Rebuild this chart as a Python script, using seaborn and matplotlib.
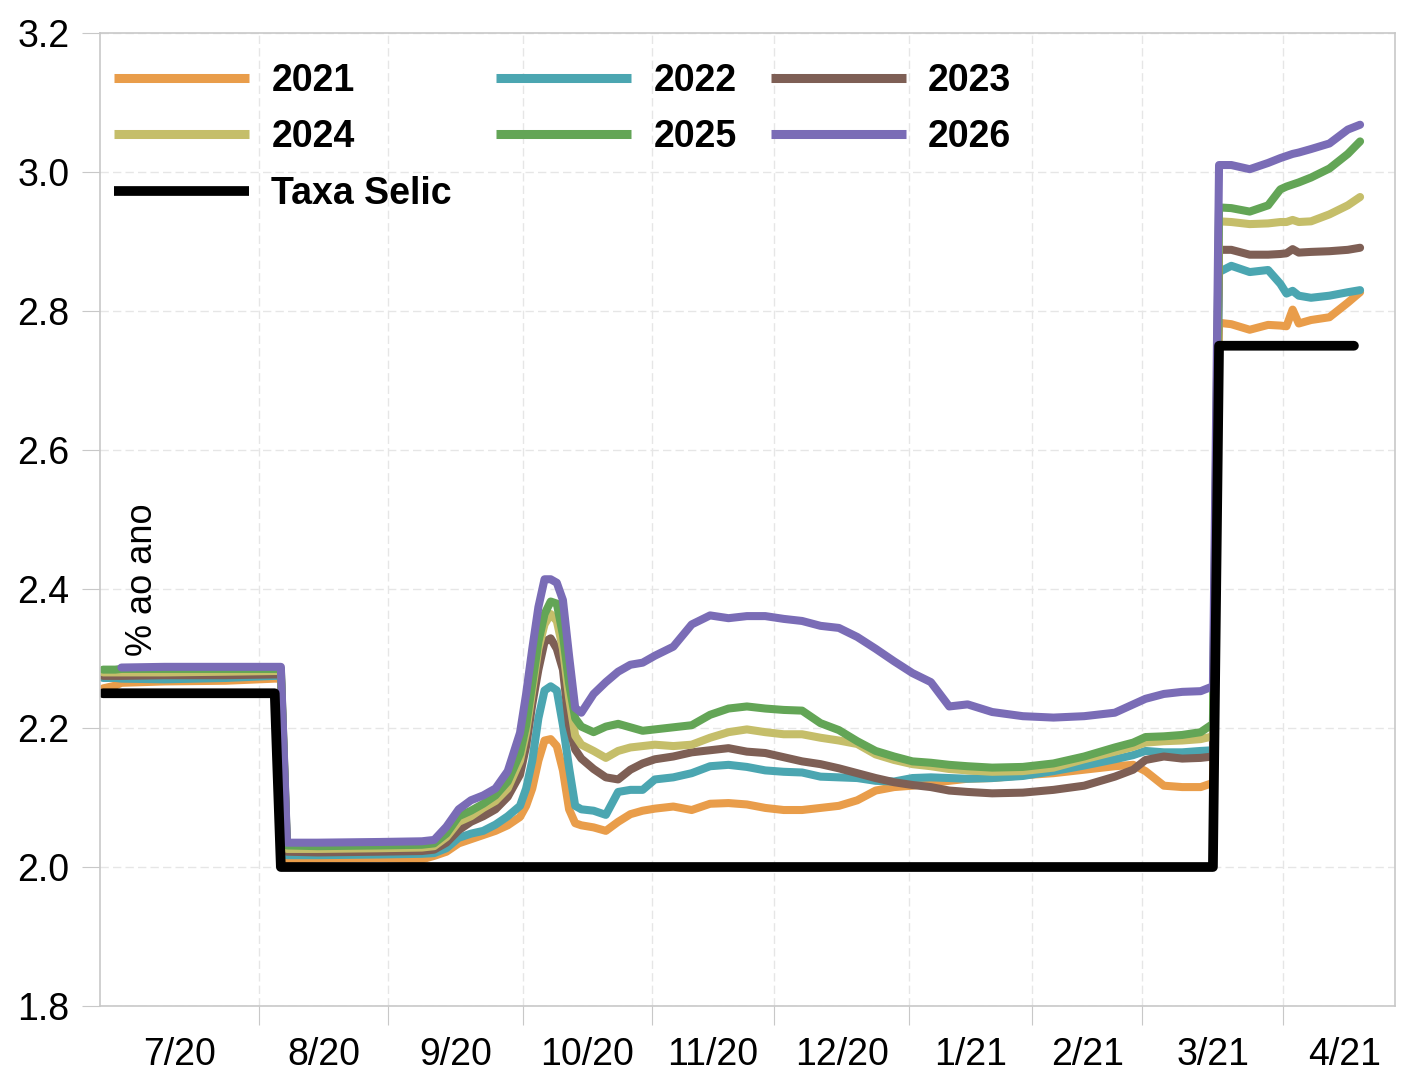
import numpy as np
import pandas as pd
import matplotlib
matplotlib.use('Agg')
import matplotlib.pyplot as plt
from matplotlib.lines import Line2D
import seaborn as sns

# dias uteis (feriados nacionais sem pregao)
inicio = '2020-06-26'
feriados = ['2020-10-12', '2020-11-02', '2020-12-25', '2021-01-01',
            '2021-02-15', '2021-02-16', '2021-04-02', '2021-04-21']

datas = ['2020-06-26', '2020-06-30', '2020-07-01', '2020-07-10', '2020-07-24', '2020-08-05', '2020-08-06', '2020-08-07', '2020-08-14', '2020-08-28',
         '2020-09-08', '2020-09-10', '2020-09-14', '2020-09-16', '2020-09-18', '2020-09-22', '2020-09-24', '2020-09-28', '2020-09-30', '2020-10-01',
         '2020-10-02', '2020-10-05', '2020-10-06', '2020-10-07', '2020-10-08', '2020-10-09', '2020-10-13', '2020-10-14', '2020-10-15', '2020-10-19',
         '2020-10-21', '2020-10-23', '2020-10-27', '2020-10-29', '2020-11-03', '2020-11-06', '2020-11-11', '2020-11-16', '2020-11-19', '2020-11-24',
         '2020-11-27', '2020-12-02', '2020-12-07', '2020-12-10', '2020-12-15', '2020-12-18', '2020-12-23', '2020-12-29', '2021-01-04', '2021-01-07',
         '2021-01-12', '2021-01-15', '2021-01-21', '2021-01-28', '2021-02-04', '2021-02-11', '2021-02-22', '2021-02-25', '2021-03-01', '2021-03-04',
         '2021-03-09', '2021-03-12', '2021-03-16', '2021-03-17', '2021-03-19', '2021-03-24', '2021-03-29', '2021-03-31', '2021-04-01', '2021-04-05',
         '2021-04-06', '2021-04-08', '2021-04-13', '2021-04-16', '2021-04-20']

v2021 = [2.257, 2.261, 2.265, 2.267, 2.268, 2.271, 2.271, 2.011, 2.012, 2.013,
         2.011, 2.016, 2.022, 2.034, 2.040, 2.046, 2.052, 2.060, 2.072, 2.088,
         2.113, 2.153, 2.182, 2.184, 2.174, 2.139, 2.083, 2.063, 2.060, 2.057,
         2.052, 2.065, 2.076, 2.081, 2.084, 2.087, 2.082, 2.091, 2.092, 2.090,
         2.085, 2.082, 2.082, 2.085, 2.088, 2.096, 2.110, 2.115, 2.117, 2.121,
         2.124, 2.127, 2.128, 2.132, 2.135, 2.140, 2.145, 2.147, 2.138, 2.117,
         2.115, 2.115, 2.121, 2.783, 2.781, 2.773, 2.780, 2.779, 2.778, 2.802,
         2.782, 2.787, 2.791, 2.812, 2.827]

v2022 = [2.272, 2.272, 2.271, 2.270, 2.272, 2.275, 2.275, 2.017, 2.017, 2.018,
         2.019, 2.020, 2.027, 2.042, 2.048, 2.052, 2.061, 2.073, 2.088, 2.113,
         2.153, 2.214, 2.254, 2.260, 2.254, 2.204, 2.143, 2.088, 2.083, 2.081,
         2.075, 2.108, 2.111, 2.111, 2.126, 2.129, 2.135, 2.145, 2.147, 2.144,
         2.139, 2.137, 2.136, 2.130, 2.129, 2.128, 2.124, 2.123, 2.128, 2.129,
         2.128, 2.127, 2.128, 2.131, 2.138, 2.146, 2.155, 2.161, 2.167, 2.165,
         2.165, 2.167, 2.168, 2.856, 2.865, 2.856, 2.859, 2.839, 2.825, 2.829,
         2.822, 2.819, 2.822, 2.827, 2.830]

v2023 = [2.275, 2.275, 2.275, 2.276, 2.276, 2.277, 2.277, 2.022, 2.021, 2.022,
         2.023, 2.025, 2.035, 2.053, 2.065, 2.073, 2.083, 2.101, 2.133, 2.174,
         2.234, 2.284, 2.324, 2.329, 2.314, 2.284, 2.204, 2.169, 2.156, 2.141,
         2.129, 2.126, 2.140, 2.149, 2.155, 2.159, 2.165, 2.168, 2.171, 2.166,
         2.164, 2.158, 2.152, 2.148, 2.142, 2.135, 2.128, 2.122, 2.118, 2.115,
         2.110, 2.108, 2.106, 2.107, 2.111, 2.117, 2.130, 2.140, 2.154, 2.159,
         2.156, 2.157, 2.159, 2.888, 2.888, 2.881, 2.881, 2.882, 2.883, 2.889,
         2.884, 2.885, 2.886, 2.888, 2.891]

v2024 = [2.280, 2.280, 2.280, 2.280, 2.281, 2.282, 2.282, 2.026, 2.026, 2.027,
         2.028, 2.030, 2.043, 2.065, 2.073, 2.085, 2.095, 2.113, 2.153, 2.194,
         2.254, 2.314, 2.349, 2.364, 2.354, 2.314, 2.244, 2.189, 2.176, 2.167,
         2.157, 2.167, 2.172, 2.174, 2.176, 2.174, 2.176, 2.186, 2.194, 2.198,
         2.194, 2.191, 2.191, 2.186, 2.182, 2.177, 2.162, 2.154, 2.148, 2.145,
         2.141, 2.139, 2.137, 2.138, 2.143, 2.155, 2.166, 2.173, 2.179, 2.181,
         2.182, 2.184, 2.188, 2.929, 2.928, 2.925, 2.926, 2.928, 2.928, 2.931,
         2.928, 2.929, 2.939, 2.952, 2.964]

v2025 = [2.284, 2.284, 2.285, 2.285, 2.285, 2.285, 2.285, 2.031, 2.030, 2.031,
         2.032, 2.034, 2.048, 2.073, 2.081, 2.091, 2.103, 2.123, 2.163, 2.204,
         2.264, 2.324, 2.364, 2.382, 2.379, 2.334, 2.264, 2.214, 2.202, 2.194,
         2.202, 2.206, 2.201, 2.196, 2.198, 2.201, 2.204, 2.219, 2.228, 2.231,
         2.228, 2.226, 2.225, 2.207, 2.197, 2.181, 2.167, 2.159, 2.152, 2.150,
         2.147, 2.145, 2.143, 2.144, 2.149, 2.159, 2.172, 2.179, 2.187, 2.188,
         2.190, 2.194, 2.206, 2.949, 2.948, 2.943, 2.952, 2.975, 2.979, 2.982,
         2.985, 2.992, 3.005, 3.026, 3.044]

v2026 = [np.nan, np.nan, 2.287, 2.288, 2.288, 2.288, 2.288, 2.035, 2.035, 2.036,
         2.037, 2.039, 2.058, 2.083, 2.096, 2.103, 2.113, 2.138, 2.193, 2.249,
         2.314, 2.374, 2.414, 2.414, 2.409, 2.384, 2.304, 2.229, 2.222, 2.249,
         2.266, 2.281, 2.291, 2.294, 2.304, 2.317, 2.349, 2.362, 2.358, 2.361,
         2.361, 2.357, 2.354, 2.347, 2.344, 2.331, 2.314, 2.296, 2.279, 2.266,
         2.231, 2.234, 2.223, 2.217, 2.215, 2.217, 2.222, 2.234, 2.242, 2.249,
         2.252, 2.253, 2.260, 3.010, 3.010, 3.004, 3.013, 3.020, 3.023, 3.026,
         3.028, 3.033, 3.041, 3.061, 3.068]

selic_datas = ['2020-06-26', '2020-08-05', '2020-08-06', '2021-03-16', '2021-03-17', '2021-04-19']
selic = [2.25, 2.25, 2.00, 2.00, 2.75, 2.75]

meses = ['2020-07-01', '2020-08-01', '2020-09-01', '2020-10-01', '2020-11-01', '2020-12-01',
         '2021-01-01', '2021-02-01', '2021-03-01', '2021-04-01', '2021-05-01']
rotulos = ['7/20', '8/20', '9/20', '10/20', '11/20', '12/20', '1/21', '2/21', '3/21', '4/21']

series = ['2021', '2022', '2023', '2024', '2025', '2026']
cores = ['#E99D4A', '#4BA6B1', '#7E5F55', '#C5BE6A', '#63A556', '#7A6CB6']


def dia_util(d):
    return np.busday_count(inicio, np.array(d, dtype='datetime64[D]'), holidays=feriados)


df = pd.DataFrame({'data': datas, '2021': v2021, '2022': v2022, '2023': v2023,
                   '2024': v2024, '2025': v2025, '2026': v2026})
df['pos'] = dia_util(datas)
df = df.melt(id_vars=['data', 'pos'], var_name='serie', value_name='valor').dropna()

df_selic = pd.DataFrame({'pos': dia_util(selic_datas), 'valor': selic})

sns.set_style('white')
plt.rcParams['font.family'] = ['Liberation Sans', 'DejaVu Sans']
plt.rcParams['lines.solid_joinstyle'] = 'round'
plt.rcParams['text.color'] = 'black'

fig = plt.figure(figsize=(14.06, 10.74), dpi=100)
ax = fig.add_axes([0.0711, 0.0633, 0.9211, 0.906])

sns.lineplot(data=df, x='pos', y='valor', hue='serie', hue_order=series,
             palette=cores, linewidth=5.8, estimator=None, legend=False, ax=ax)
sns.lineplot(data=df_selic, x='pos', y='valor', color='black', linewidth=7,
             estimator=None, legend=False, ax=ax)

# eixos
ax.set_ylim(1.8, 3.2)
ax.set_yticks(np.arange(1.8, 3.21, 0.2))
ax.set_yticklabels(['{:.1f}'.format(v) for v in np.arange(1.8, 3.21, 0.2)])
ax.set_xlim(-0.5, 210.7)

bordas = dia_util(meses) - 0.5
bordas[0] = -0.5
centros = (bordas[:-1] + bordas[1:]) / 2
ax.set_xticks(bordas[1:-1])
ax.set_xticklabels([''] * len(bordas[1:-1]))
ax.set_xticks(centros, minor=True)
ax.set_xticklabels(rotulos, minor=True)

ax.set_xlabel('')
ax.set_ylabel('')
ax.grid(True, which='major', color='#e6e6e6', linestyle=(0, (6, 3)), linewidth=1)
for s in ax.spines.values():
    s.set_color('#c8c8c8')
    s.set_linewidth(1.2)

ax.tick_params(axis='y', which='major', length=13, color='#c8c8c8', pad=9,
               labelsize=27, labelcolor='black', left=True)
ax.tick_params(axis='x', which='major', length=14, color='#c8c8c8', bottom=True)
ax.tick_params(axis='x', which='minor', length=0, pad=22, labelsize=27, labelcolor='black')

ax.text(0.033, 0.438, '% ao ano', rotation=90, transform=ax.transAxes,
        ha='center', va='center', fontsize=26, color='black')

# legenda (ordem por colunas)
h = {s: Line2D([], [], color=c, linewidth=6.5, solid_capstyle='butt') for s, c in zip(series, cores)}
h['Taxa Selic'] = Line2D([], [], color='black', linewidth=7, solid_capstyle='butt')
ordem = ['2021', '2024', 'Taxa Selic', '2022', '2025', '2023', '2026']
nomes = ['2021', '2024', 'Taxa Selic ', '2022', '2025', '2023', '2026']
ax.legend([h[k] for k in ordem], nomes, loc='upper left', bbox_to_anchor=(0.002, 0.981),
          ncol=3, frameon=False, prop={'weight': 'bold', 'size': 27},
          handlelength=3.6, handletextpad=0.6, columnspacing=0.9,
          labelspacing=0.55, borderaxespad=0, borderpad=0.3)

fig.savefig('out.png', dpi=100)
